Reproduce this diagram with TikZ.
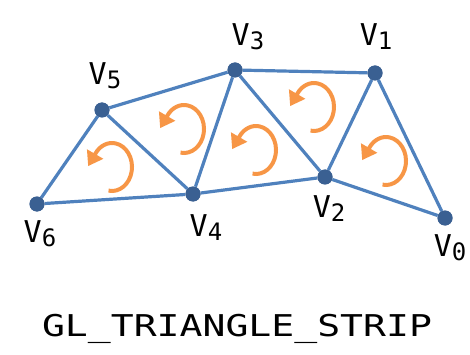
\documentclass[tikz,border=0pt]{standalone}
\usepackage{fontspec}
\setmonofont{DejaVu Sans Mono}
\usetikzlibrary{arrows.meta}
\definecolor{edgeblue}{RGB}{79,129,189}
\definecolor{dotblue}{RGB}{58,96,146}
\definecolor{arrorange}{RGB}{247,150,70}
\newcommand{\vlab}[1]{{\fontsize{30}{30}\selectfont V}\raisebox{-4pt}{\fontsize{24}{24}\selectfont #1}}
\tikzset{
  vert/.style={circle,fill=dotblue,inner sep=0pt,minimum size=15pt},
  edge/.style={draw=edgeblue,line width=3.2pt},
  vlabel/.style={font=\ttfamily,inner sep=0pt,xscale=1.0},
  turn/.style={draw=arrorange,line width=4pt,-{Triangle[length=14pt,width=18pt]}}
}
\begin{document}
\begin{tikzpicture}[x=1pt,y=-1pt]
\useasboundingbox (0,0) rectangle (470,355);
% vertices
\node[vert] (v0) at (445,218) {};
\node[vert] (v1) at (375,73) {};
\node[vert] (v2) at (325,177) {};
\node[vert] (v3) at (235,70) {};
\node[vert] (v4) at (193,194) {};
\node[vert] (v5) at (102,110) {};
\node[vert] (v6) at (37,204) {};
% edges
\draw[edge] (v6) -- (v5);
\draw[edge] (v6) -- (v4);
\draw[edge] (v5) -- (v4);
\draw[edge] (v5) -- (v3);
\draw[edge] (v4) -- (v3);
\draw[edge] (v4) -- (v2);
\draw[edge] (v3) -- (v2);
\draw[edge] (v3) -- (v1);
\draw[edge] (v2) -- (v1);
\draw[edge] (v2) -- (v0);
\draw[edge] (v1) -- (v0);
% redraw dots on top
\foreach \p in {v0,v1,v2,v3,v4,v5,v6} \fill[dotblue] (\p) circle (7.5pt);
% labels
\node[vlabel] (l0) at (450,248) {\vlab{0}};
\node[vlabel] (l1) at (376,37) {\vlab{1}};
\node[vlabel] (l2) at (329,209) {\vlab{2}};
\node[vlabel] (l3) at (248,37) {\vlab{3}};
\node[vlabel] (l4) at (206,228) {\vlab{4}};
\node[vlabel] (l5) at (105,76) {\vlab{5}};
\node[vlabel] (l6) at (40,234) {\vlab{6}};
% rotation arrows
\coordinate (c1) at (112,167);
\coordinate (c2) at (184,129);
\coordinate (c3) at (256,150);
\coordinate (c4) at (314,107);
\coordinate (c5) at (386,161);
\foreach \c in {c1,c2,c3,c4,c5}
  \draw[turn] ([shift={(100:20 and 24)}]\c) arc[start angle=100,end angle=-145,x radius=20,y radius=24] -- ++(-7.5,12.9);
% caption
\node[font=\ttfamily\fontsize{30}{30}\selectfont,inner sep=0pt,xscale=1.27] (cap) at (237,329) {GL\_TRIANGLE\_STRIP};
\end{tikzpicture}
\end{document}
